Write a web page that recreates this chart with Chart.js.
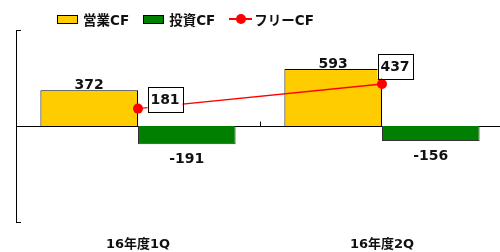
<!DOCTYPE html>
<html>
<head>
<meta charset="utf-8">
<script src="https://cdn.jsdelivr.net/npm/chart.js@4/dist/chart.umd.min.js"></script>
<style>
  html, body { margin: 0; padding: 0; background: #fff; overflow: hidden; }
  #wrap { position: relative; width: 510px; height: 252px; }
  #legend {
    position: absolute; left: 57px; top: 9px;
    display: flex; align-items: center;
    font: bold 13.5px "DejaVu Sans", "Noto Sans CJK JP", sans-serif; color: #111;
  }
  #legend .item { display: flex; align-items: center; margin-right: 14px; white-space: nowrap; }
  #legend .box { display: inline-block; width: 19px; height: 7px; border: 1px solid #000; margin-right: 5px; }
  #legend .line { position: relative; display: inline-block; width: 23px; height: 10px; margin-right: 2px; }
  #legend .line::before { content: ""; position: absolute; left: 0; right: 0; top: 4px; height: 2px; background: var(--c); }
  #legend .line::after { content: ""; position: absolute; left: 7px; top: 0; width: 10px; height: 10px; border-radius: 50%; background: var(--c); }
</style>
</head>
<body>
<div id="wrap">
  <div id="legend"></div>
  <canvas id="cf-chart" width="510" height="252"></canvas>
</div>
<script>
  const categories = ["16年度1Q", "16年度2Q"];
  const operatingCF = [372, 593];
  const investingCF = [-191, -156];
  const freeCF = [181, 437];
  const yMin = -1000;
  const yMax = 1000;

  const FONT = '"DejaVu Sans", "Noto Sans CJK JP", sans-serif';
  // hand-placed callout boxes, offset from each point (dx, dy)
  const calloutOffsets = [[27, -9], [13, -18]];

  const axisDecor = {
    id: "axisDecor",
    beforeDatasetsDraw(chart) {
      const { ctx, chartArea, scales: { x, y } } = chart;
      const y0 = Math.round(y.getPixelForValue(0)) + 0.5;
      const left = chartArea.left;
      ctx.save();
      ctx.strokeStyle = "#000";
      ctx.lineWidth = 1;
      ctx.beginPath();
      ctx.moveTo(left, y0);
      ctx.lineTo(chart.width, y0);
      // divider tick between the two quarters
      const mid = Math.round((x.getPixelForTick(0) + x.getPixelForTick(1)) / 2) + 0.5;
      ctx.moveTo(mid, y0);
      ctx.lineTo(mid, y0 - 5);
      // end ticks on the value axis
      [y.max, y.min].forEach((v) => {
        const py = Math.round(y.getPixelForValue(v)) + 0.5;
        ctx.moveTo(left, py);
        ctx.lineTo(left + 5, py);
      });
      ctx.stroke();
      ctx.restore();
    },
  };

  const valueLabels = {
    id: "valueLabels",
    afterDatasetsDraw(chart) {
      const { ctx } = chart;
      ctx.save();
      ctx.font = `bold 14px ${FONT}`;
      ctx.fillStyle = "#111";
      ctx.textAlign = "center";

      chart.data.datasets.forEach((ds, i) => {
        const meta = chart.getDatasetMeta(i);
        meta.data.forEach((el, j) => {
          const v = ds.data[j];
          if (ds.type === "line") {
            const [dx, dy] = calloutOffsets[j];
            const cx = el.x + dx;
            const cy = el.y + dy;
            const w = 35;
            const h = 25;
            ctx.fillStyle = "#fff";
            ctx.fillRect(cx - w / 2, cy - h / 2, w, h);
            ctx.strokeStyle = "#000";
            ctx.lineWidth = 1;
            ctx.strokeRect(Math.round(cx - w / 2) + 0.5, Math.round(cy - h / 2) + 0.5, w, h);
            ctx.fillStyle = "#111";
            ctx.textBaseline = "middle";
            ctx.fillText(String(v), cx, cy + 1);
          } else if (v >= 0) {
            ctx.textBaseline = "bottom";
            ctx.fillText(String(v), el.x, el.y + 2);
          } else {
            ctx.textBaseline = "top";
            ctx.fillText(String(v), el.x, el.y + 8);
          }
        });
      });
      ctx.restore();
    },
  };

  const chart = new Chart(document.getElementById("cf-chart"), {
    data: {
      labels: categories,
      datasets: [
        {
          type: "line",
          label: "フリーCF",
          data: freeCF,
          borderColor: "#FF0000",
          backgroundColor: "#FF0000",
          borderWidth: 1.5,
          pointRadius: 5,
          pointBorderWidth: 0,
          pointBackgroundColor: "#FF0000",
          order: 0,
        },
        {
          type: "bar",
          label: "営業CF",
          data: operatingCF,
          backgroundColor: "#FFCC00",
          borderColor: "#000",
          borderWidth: 1,
          categoryPercentage: 0.8,
          barPercentage: 1.0,
          order: 1,
        },
        {
          type: "bar",
          label: "投資CF",
          data: investingCF,
          backgroundColor: "#007F00",
          borderColor: "#333",
          borderWidth: 1,
          categoryPercentage: 0.8,
          barPercentage: 1.0,
          order: 1,
        },
      ],
    },
    options: {
      responsive: false,
      animation: false,
      layout: { padding: { left: 16, right: 6, top: 30, bottom: 0 } },
      scales: {
        x: {
          offset: true,
          grid: { display: false, drawTicks: false },
          border: { display: false },
          afterFit: (scale) => { scale.height = 30; },
          ticks: {
            padding: 15,
            color: "#111",
            font: { family: FONT, size: 13, weight: "bold" },
          },
        },
        y: {
          min: yMin,
          max: yMax,
          grid: { display: false, drawTicks: false },
          border: { display: true, color: "#000", width: 1 },
          ticks: { display: false },
        },
      },
      plugins: {
        legend: { display: false },
        tooltip: { enabled: false },
      },
    },
    plugins: [axisDecor, valueLabels],
  });

  // html legend, built from the datasets (bars first, then the line)
  const legendEl = document.getElementById("legend");
  [1, 2, 0].forEach((i) => {
    const ds = chart.data.datasets[i];
    const item = document.createElement("span");
    item.className = "item";
    const mark = document.createElement("i");
    if (ds.type === "line") {
      mark.className = "line";
      mark.style.setProperty("--c", ds.borderColor);
    } else {
      mark.className = "box";
      mark.style.background = ds.backgroundColor;
    }
    item.appendChild(mark);
    item.appendChild(document.createTextNode(ds.label));
    legendEl.appendChild(item);
  });
</script>
</body>
</html>
